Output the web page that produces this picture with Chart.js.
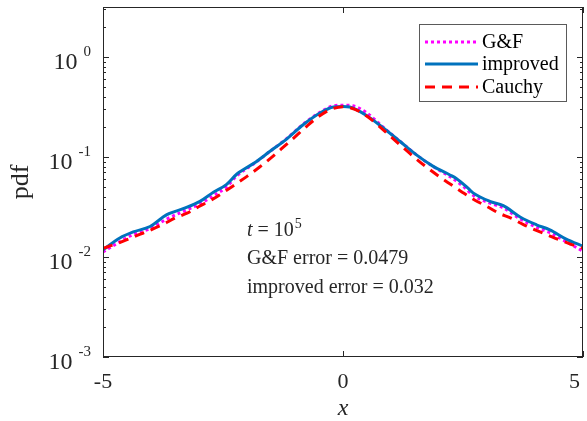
<!DOCTYPE html>
<html>
<head>
<meta charset="utf-8">
<script src="https://cdn.jsdelivr.net/npm/chart.js@4.4.1/dist/chart.umd.min.js"></script>
<style>
html, body { margin: 0; padding: 0; background: #fff; }
#wrap { width: 587px; height: 421px; }
</style>
</head>
<body>
<div id="wrap"><canvas id="pdfChart" width="587" height="421"></canvas></div>
<script>
// Values (pdf on a log axis, t = 1e5)
const gfX = [-5, -4.65, -4.37, -4.02, -3.67, -3.33, -2.98, -2.7, -2.43, -2.21, -1.85, -1.52, -1.17, -0.83, -0.48, -0.2, 0,
    0.2, 0.48, 0.83, 1.17, 1.52, 1.88, 2.22, 2.5, 2.71, 3.06, 3.34, 3.69, 4.03, 4.31, 4.65, 5];
const gfPdf = [0.0112, 0.0142, 0.0168, 0.0192, 0.024, 0.0285, 0.034, 0.041, 0.05, 0.065, 0.086, 0.114, 0.153, 0.213, 0.28, 0.325, 0.33,
    0.325, 0.28, 0.2, 0.146, 0.106, 0.08, 0.064, 0.051, 0.0415, 0.0345, 0.031, 0.024, 0.0198, 0.0175, 0.0142, 0.0114];

const improvedX = [-5, -4.65, -4.37, -4.02, -3.67, -3.33, -2.98, -2.7, -2.43, -2.21, -1.85, -1.52, -1.17, -0.83, -0.48, -0.2, 0,
    0.14, 0.49, 0.84, 1.19, 1.53, 1.88, 2.22, 2.36, 2.61, 2.71, 3.06, 3.34, 3.69, 4.03, 4.31, 4.65, 5];
const improvedPdf = [0.0118, 0.0155, 0.0178, 0.0202, 0.0265, 0.0304, 0.036, 0.0445, 0.053, 0.0676, 0.087, 0.114, 0.152, 0.21, 0.275, 0.316, 0.32,
    0.316, 0.26, 0.195, 0.143, 0.105, 0.0806, 0.0665, 0.061, 0.0485, 0.0438, 0.036, 0.0326, 0.0251, 0.021, 0.0187, 0.0151, 0.0128];

const cauchyX = [-5, -4.75, -4.5, -4.25, -4, -3.75, -3.5, -3.25, -3, -2.75, -2.5, -2.25, -2, -1.75, -1.5, -1.25, -1, -0.75, -0.5, -0.25, 0,
    0.25, 0.5, 0.75, 1, 1.25, 1.5, 1.75, 2, 2.25, 2.5, 2.75, 3, 3.25, 3.5, 3.75, 4, 4.25, 4.5, 4.75, 5];
const cauchyPdf = [0.0122, 0.0134, 0.0149, 0.0167, 0.0187, 0.0212, 0.0245, 0.0274, 0.032, 0.037, 0.044, 0.053, 0.064, 0.0785, 0.098, 0.1245, 0.159, 0.204, 0.255, 0.300, 0.318,
    0.300, 0.255, 0.204, 0.159, 0.1245, 0.098, 0.0785, 0.064, 0.053, 0.044, 0.037, 0.032, 0.0274, 0.0245, 0.0212, 0.0187, 0.0167, 0.0149, 0.0134, 0.0122];

const xTicks = [-5, 0, 5];
const yDecades = [-3, -2, -1, 0];
const seriesLabels = ['G&F', 'improved', 'Cauchy'];
const noteLines = ['G&F error = 0.0479', 'improved error = 0.032'];

const SERIF = '"Liberation Serif", "Times New Roman", serif';
const AXIS_COLOR = '#262626';
const COLORS = { gf: '#ff00ff', improved: '#0072bd', cauchy: '#ff0000' };
const DASH = { gf: [3, 3], improved: [], cauchy: [10, 7] };

function points(xs, ys) {
    return xs.map((x, i) => ({ x, y: ys[i] }));
}

function lineDataset(label, xs, ys, key, order) {
    return {
        label,
        data: points(xs, ys),
        borderColor: COLORS[key],
        borderWidth: 3,
        borderDash: DASH[key],
        pointRadius: 0,
        cubicInterpolationMode: 'monotone',
        order
    };
}

// MATLAB-style box: inward ticks, tick labels with exponents, legend and notes
const matlabAxes = {
    id: 'matlabAxes',
    afterDatasetsDraw(chart) {
        const { ctx, chartArea: a, scales: { x, y } } = chart;
        ctx.save();
        ctx.strokeStyle = AXIS_COLOR;
        ctx.lineWidth = 1;
        ctx.setLineDash([]);
        ctx.strokeRect(a.left + 0.5, a.top + 0.5, a.right - a.left - 1, a.bottom - a.top - 1);

        ctx.beginPath();
        for (const v of xTicks) {
            const px = Math.round(x.getPixelForValue(v)) + 0.5;
            ctx.moveTo(px, a.bottom); ctx.lineTo(px, a.bottom - 6);
            ctx.moveTo(px, a.top); ctx.lineTo(px, a.top + 6);
        }
        for (const d of yDecades) {
            for (let m = 1; m <= 9; m++) {
                const v = m * Math.pow(10, d);
                if (v > y.max * 1.0001) break;
                const py = Math.round(y.getPixelForValue(v)) + 0.5;
                const len = m === 1 ? 6 : 3;
                ctx.moveTo(a.left, py); ctx.lineTo(a.left + len, py);
                ctx.moveTo(a.right, py); ctx.lineTo(a.right - len, py);
            }
        }
        ctx.stroke();

        // tick labels
        ctx.fillStyle = AXIS_COLOR;
        ctx.textBaseline = 'alphabetic';
        ctx.font = `22px ${SERIF}`;
        for (const v of xTicks) {
            const label = String(v);
            const w = ctx.measureText(label).width;
            let cx = x.getPixelForValue(v);
            cx = Math.min(cx, chart.width - 7 - w / 2);
            ctx.textAlign = 'center';
            ctx.fillText(label, cx, 388);
        }
        ctx.textAlign = 'right';
        for (const d of yDecades) {
            const py = y.getPixelForValue(Math.pow(10, d));
            const exp = String(d);
            ctx.font = `15px ${SERIF}`;
            const ew = ctx.measureText(exp).width;
            ctx.fillText(exp, 91, py - 1.5);
            ctx.font = `24px ${SERIF}`;
            ctx.fillText('10', 91 - ew - 6, py + 12);
        }

        // axis titles
        ctx.textAlign = 'center';
        ctx.font = `italic 24px ${SERIF}`;
        ctx.fillText('x', (a.left + a.right) / 2, 415);
        ctx.save();
        ctx.translate(28, (a.top + a.bottom) / 2);
        ctx.rotate(-Math.PI / 2);
        ctx.font = `26px ${SERIF}`;
        ctx.fillText('pdf', 0, 0);
        ctx.restore();

        // annotation text, anchored at x = -2
        const nx = x.getPixelForValue(-2);
        ctx.textAlign = 'left';
        ctx.font = `italic 20px ${SERIF}`;
        ctx.fillText('t', nx, 236);
        let cx = nx + ctx.measureText('t').width;
        ctx.font = `20px ${SERIF}`;
        ctx.fillText(' = 10', cx, 236);
        cx += ctx.measureText(' = 10').width + 1;
        ctx.font = `14px ${SERIF}`;
        ctx.fillText('5', cx, 228);
        ctx.font = `20px ${SERIF}`;
        ctx.fillText(noteLines[0], nx, 264);
        ctx.fillText(noteLines[1], nx, 293);

        // legend
        ctx.fillStyle = '#fff';
        ctx.fillRect(419, 24, 147, 77);
        ctx.strokeStyle = '#5a5a5a';
        ctx.strokeRect(419.5, 24.5, 147, 77);
        const keys = ['gf', 'improved', 'cauchy'];
        const rows = [42, 64, 87];
        ctx.font = `20px ${SERIF}`;
        ctx.textBaseline = 'middle';
        keys.forEach((key, i) => {
            ctx.strokeStyle = COLORS[key];
            ctx.lineWidth = 3;
            ctx.setLineDash(DASH[key]);
            ctx.beginPath();
            ctx.moveTo(425, rows[i]);
            ctx.lineTo(478, rows[i]);
            ctx.stroke();
            ctx.fillStyle = '#000';
            ctx.fillText(seriesLabels[i], 482, rows[i] + 1);
        });
        ctx.restore();
    }
};

new Chart(document.getElementById('pdfChart'), {
    type: 'line',
    data: {
        datasets: [
            lineDataset(seriesLabels[0], gfX, gfPdf, 'gf', 3),
            lineDataset(seriesLabels[1], improvedX, improvedPdf, 'improved', 2),
            lineDataset(seriesLabels[2], cauchyX, cauchyPdf, 'cauchy', 1)
        ]
    },
    options: {
        responsive: false,
        animation: false,
        layout: { padding: { left: 103, top: 7, right: 4, bottom: 64 } },
        plugins: { legend: { display: false }, tooltip: { enabled: false } },
        scales: {
            x: { type: 'linear', min: -5, max: 5, display: false },
            y: { type: 'logarithmic', min: 0.001, max: Math.pow(10, 0.5), display: false }
        }
    },
    plugins: [matlabAxes]
});
</script>
</body>
</html>
